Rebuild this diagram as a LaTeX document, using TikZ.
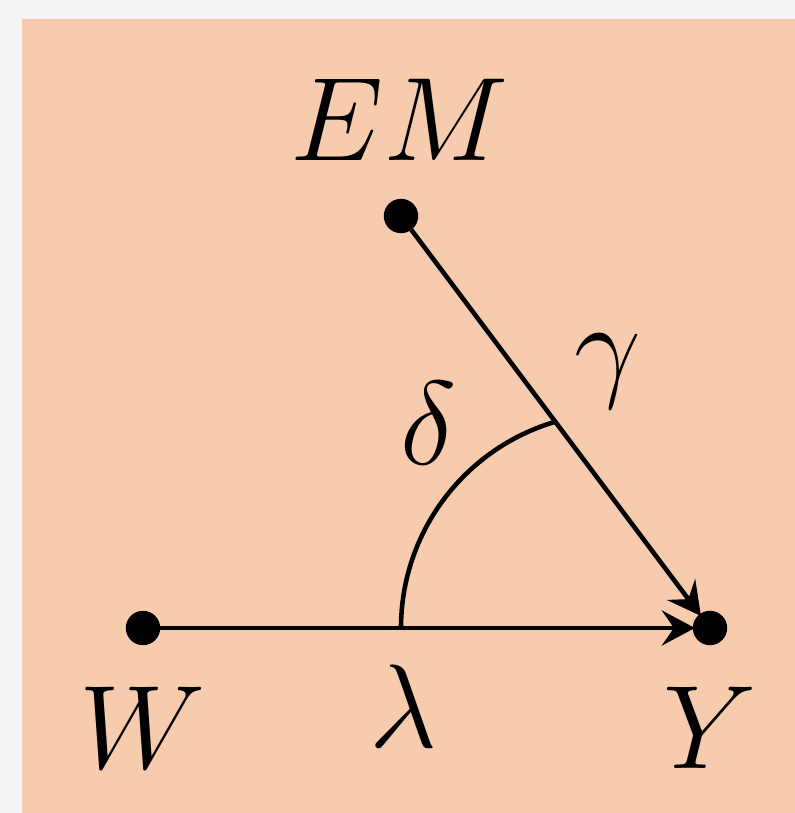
\documentclass[tikz,border=0pt]{standalone}
\usetikzlibrary{arrows.meta,calc}

\begin{document}
\begin{tikzpicture}[
  x=1cm,
  y=1cm,
  >={Stealth[length=3.3mm,width=3.5mm,inset=1.2mm]},
  vertex/.style={circle,fill=black,draw=black,inner sep=0pt,minimum size=3.3mm},
  link/.style={line width=1.3pt,->,shorten >=-0.6pt},
  tag/.style={font=\Huge,scale=1.36,transform shape}
]
\definecolor{figgray}{RGB}{244,244,244}
\definecolor{figpeach}{RGB}{247,203,174}

% Page and panel.
\fill[figgray] (0,0) rectangle (7.95,8.13);
\fill[figpeach] (0.22,0) rectangle (7.95,7.94);
\useasboundingbox (0,0) rectangle (7.95,8.13);

\node[vertex] (w)  at (1.43,1.85) {};
\node[vertex] (y)  at (7.10,1.85) {};
\node[vertex] (em) at (4.01,5.97) {};

\node[tag] (emlab) at (4.00,6.93) {$EM$};
\node[tag] (wlab) at (1.43,0.855) {$W$};
\node[tag] (ylab) at (7.10,0.855) {$Y$};

% Paths into Y.
\draw[link] (w) -- (y);
\draw[link] (em) -- (y);
\node[tag] (lam) at (4.03,1.07) {$\lambda$};
\node[tag] (gam) at (6.08,4.42) {$\gamma$};

% Angle between the two paths.
\draw[line width=1.3pt] (4.01,1.85) arc[start angle=180, end angle=106.5, radius=2.15];
\node[tag] (del) at (4.29,3.90) {$\delta$};
\end{tikzpicture}
\end{document}
